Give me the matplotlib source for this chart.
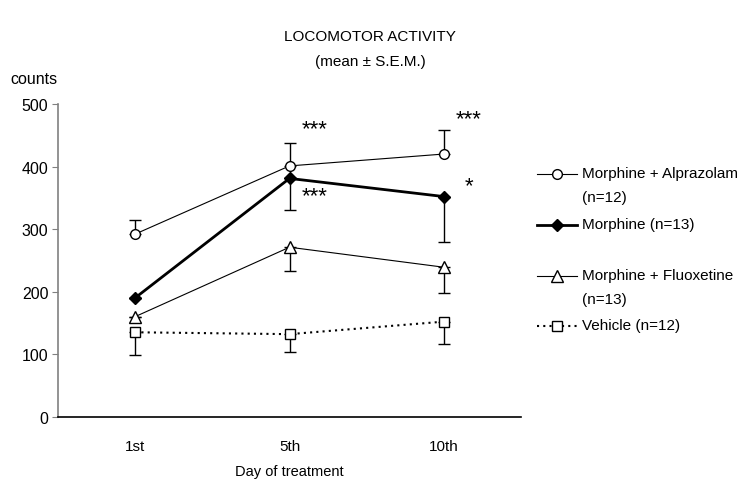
import matplotlib
matplotlib.use('Agg')
import matplotlib.pyplot as plt
import numpy as np

plt.rcParams['font.family'] = ['Liberation Sans', 'DejaVu Sans']

days = ['1st', '5th', '10th']

alp = [292, 401, 420]
alp_up = [22, 36, 39]
mor = [190, 381, 352]
mor_down = [0, 50, 72]
flu = [160, 271, 239]
flu_down = [0, 38, 42]
veh = [135, 132, 152]
veh_down = [37, 29, 35]

labels = ['Morphine + Alprazolam\n(n=12)', 'Morphine (n=13)',
          'Morphine + Fluoxetine\n(n=13)', 'Vehicle (n=12)']

# significance marks: (day index, y, text)
stars = [(1, 460, '***'), (1, 354, '***'), (2, 476, '***'), (2, 369, '*')]

fig = plt.figure(figsize=(7.41, 4.81), dpi=100)
ax = fig.add_axes([58/741, 1-417.7/481, 463/741, 312.7/481])
x = np.arange(len(days))

for vals, lo, hi in [(alp, np.zeros(3), alp_up), (mor, mor_down, np.zeros(3)),
                     (flu, flu_down, np.zeros(3)), (veh, veh_down, np.zeros(3))]:
    ax.errorbar(x, vals, yerr=[lo, hi], fmt='none', ecolor='black',
                elinewidth=1, capsize=4, zorder=2)

styles = [
    (alp, dict(color='black', lw=0.8, marker='o', ms=7, mfc='white', mec='black')),
    (mor, dict(color='black', lw=2, marker='D', ms=6.5, mfc='black', mec='black')),
    (flu, dict(color='black', lw=0.8, marker='^', ms=8, mfc='white', mec='black')),
    (veh, dict(color='black', lw=1.5, ls=(0, (1, 2)), marker='s', ms=7, mfc='white', mec='black')),
]
for vals, kw in styles:
    ax.plot(x, vals, zorder=3, **kw)

for i, yv, t in stars:
    ax.text(i + 0.16, yv, t, ha='center', va='center', fontsize=16)

ax.set_xlim(-0.5, 2.5)
ax.set_ylim(0, 500)
ax.set_yticks(range(0, 501, 100))
ax.set_xticks(x)
ax.set_xticklabels(days)
ax.tick_params(axis='x', length=0, pad=16, labelsize=11)
ax.tick_params(axis='y', length=4, color='#808080', labelsize=11.5, pad=3)
ax.spines['top'].set_visible(False)
ax.spines['right'].set_visible(False)
ax.spines['left'].set_color('#808080')
ax.spines['left'].set_linewidth(1.2)
ax.spines['bottom'].set_linewidth(1.2)
ax.set_xlabel('Day of treatment', fontsize=10.5, labelpad=8)

fig.text(370/741, 1-37/481, 'LOCOMOTOR ACTIVITY', ha='center', va='center', fontsize=11)
fig.text(370/741, 1-62/481, '(mean ± S.E.M.)', ha='center', va='center', fontsize=11)
fig.text(10/741, 1-80/481, 'counts', ha='left', va='center', fontsize=11.5)

# legend drawn by hand so the marker sits on the first line of each label
lax = fig.add_axes([0, 0, 1, 1])
lax.set_xlim(0, 741)
lax.set_ylim(481, 0)
lax.axis('off')
leg_y = [175, 226, 277, 327]
for (vals, kw), lab, ly in zip(styles, labels, leg_y):
    k = dict(kw)
    lax.plot([537, 577], [ly, ly], color=k['color'], lw=k['lw'], ls=k.get('ls', '-'))
    lax.plot([557], [ly], linestyle='none', marker=k['marker'], ms=k['ms'],
             mfc=k['mfc'], mec=k['mec'])
    lax.text(582, ly - 8, lab, ha='left', va='top', fontsize=11,
             linespacing=1.9)

fig.savefig('out.png', dpi=100)
